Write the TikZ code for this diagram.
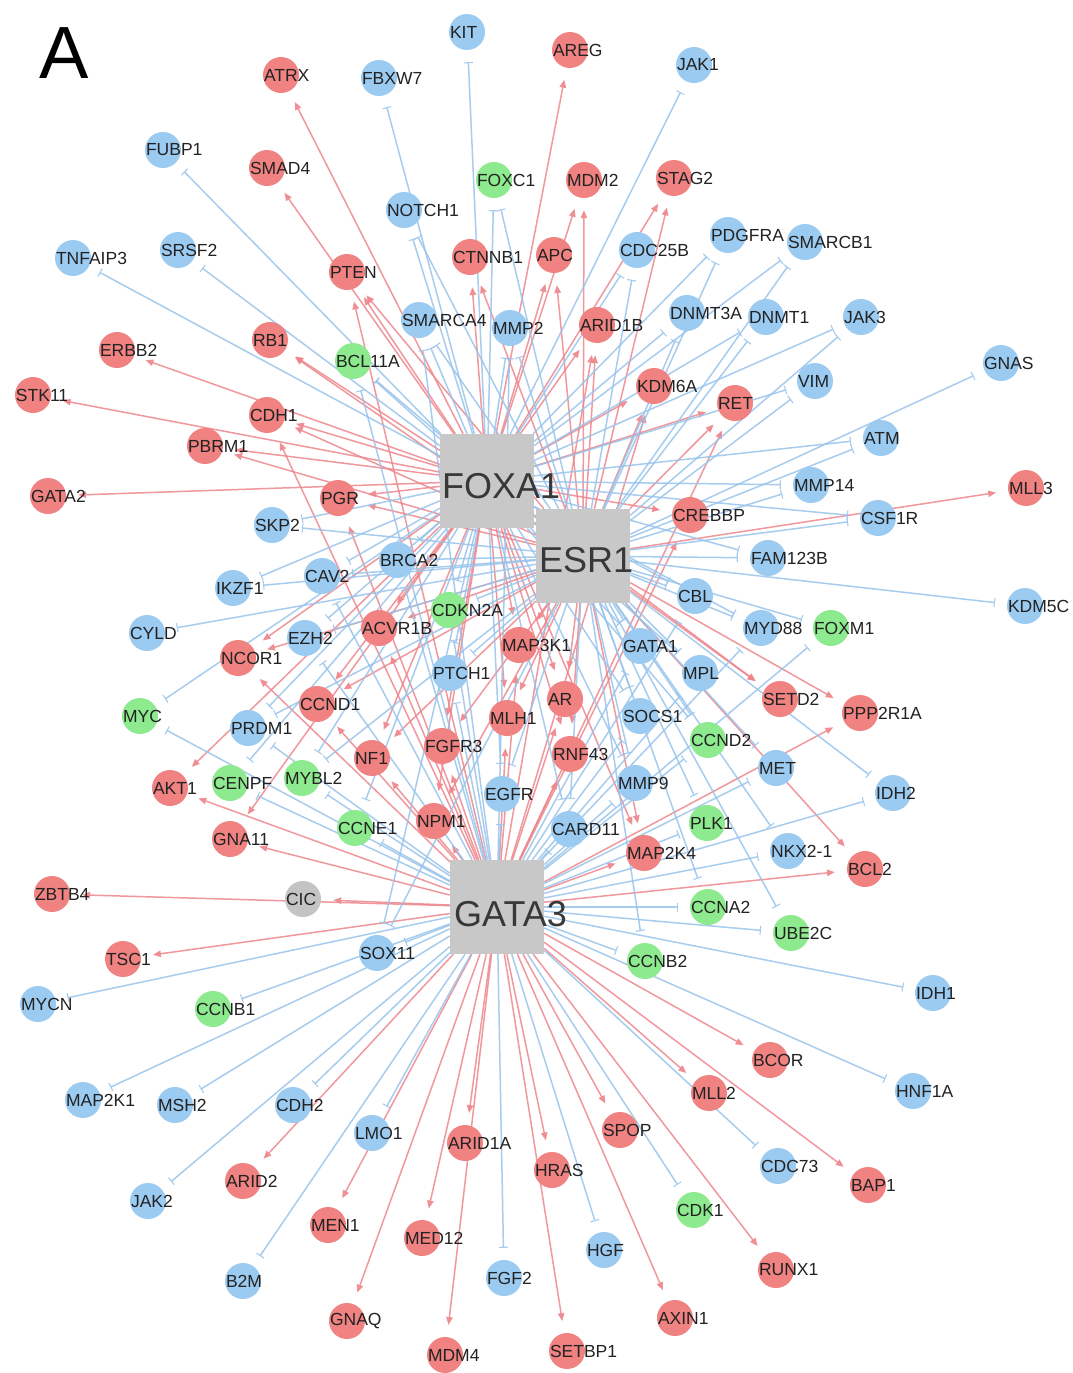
\documentclass[tikz,border=0pt]{standalone}
\usepackage{fontspec}
\setmainfont{Liberation Sans}
\usetikzlibrary{arrows.meta}
\definecolor{nred}{HTML}{F08282}
\definecolor{nblue}{HTML}{9CCBF2}
\definecolor{ngreen}{HTML}{8EEA8E}
\definecolor{ngray}{HTML}{C4C4C4}
\definecolor{hubgray}{HTML}{C8C8C8}
\definecolor{ered}{HTML}{EE868C}
\definecolor{eblue}{HTML}{98C4EC}
\definecolor{labtxt}{HTML}{222222}
\definecolor{hubtxt}{HTML}{383838}
\pgfdeclarelayer{bglayer}
\pgfdeclarelayer{edgelayer}
\pgfsetlayers{bglayer,edgelayer,main}
\begin{document}
\begin{tikzpicture}[x=1pt,y=-1pt,
  circ/.style={circle, draw=none, minimum size=36pt, inner sep=0pt},
  lab/.style={font=\fontsize{17.5}{18}\selectfont, text=labtxt, inner sep=0pt, anchor=west},
  hub/.style={rectangle, fill=hubgray, minimum width=94pt, minimum height=94pt, inner sep=0pt},
  hublab/.style={font=\fontsize{36}{36}\selectfont, text=hubtxt, inner sep=0pt, anchor=west},
  er/.style={draw=ered, line width=1.5pt, opacity=0.85, -{Triangle[length=8pt,width=6.5pt]}, shorten >=12pt},
  eb/.style={draw=eblue, line width=1.5pt, opacity=0.85, -{Bar[width=9pt,line width=1.1pt]}, shorten >=12pt},
]
\useasboundingbox (0,0) rectangle (1073,1373);
\begin{pgfonlayer}{bglayer}
\fill[white] (0,0) rectangle (1073,1373);
\end{pgfonlayer}

\node[font=\fontsize{74}{74}\selectfont, inner sep=0pt, anchor=south west] (Alab) at (39,79) {A};

% hubs
\node[hub] (F) at (487,481) {};
\node[hub] (E) at (583,556) {};
\node[hub] (G) at (497,907) {};
\node[hublab] (Fl) at (442,486) {FOXA1};
\node[hublab] (El) at (539,560) {ESR1};
\node[hublab] (Gl) at (454,914) {GATA3};

\def\nodelist{KIT/467/32/nblue/KIT, AREG/570/50/nred/AREG, JAK1/694/65/nblue/JAK1,
ATRX/281/75/nred/ATRX, FBXW7/379/78/nblue/FBXW7, FUBP1/163/150/nblue/FUBP1,
SMAD4/267/168/nred/SMAD4, FOXC1/494/180/ngreen/FOXC1, MDM2/584/180/nred/MDM2,
STAG2/674/178/nred/STAG2, NOTCH1/404/210/nblue/NOTCH1, TNFAIP3/73/258/nblue/TNFAIP3,
SRSF2/178/250/nblue/SRSF2, PTEN/347/272/nred/PTEN, CTNNB1/470/257/nred/CTNNB1,
APC/554/255/nred/APC, CDC25B/637/250/nblue/CDC25B, PDGFRA/728/235/nblue/PDGFRA,
SMARCB1/805/242/nblue/SMARCB1, SMARCA4/419/320/nblue/SMARCA4, MMP2/510/328/nblue/MMP2,
ARID1B/597/325/nred/ARID1B, DNMT3A/687/313/nblue/DNMT3A, DNMT1/766/317/nblue/DNMT1,
JAK3/861/317/nblue/JAK3, RB1/270/340/nred/RB1, BCL11A/353/361/ngreen/BCL11A,
ERBB2/117/350/nred/ERBB2, KDM6A/654/386/nred/KDM6A, VIM/815/381/nblue/VIM,
GNAS/1001/363/nblue/GNAS, STK11/33/395/nred/STK11, CDH1/267/415/nred/CDH1,
RET/735/403/nred/RET, ATM/881/438/nblue/ATM, PBRM1/205/446/nred/PBRM1,
GATA2/48/496/nred/GATA2, PGR/338/498/nred/PGR, MMP14/811/485/nblue/MMP14,
MLL3/1026/488/nred/MLL3, CREBBP/690/515/nred/CREBBP, CSF1R/878/518/nblue/CSF1R,
SKP2/272/525/nblue/SKP2, BRCA2/397/560/nblue/BRCA2, FAM123B/768/558/nblue/FAM123B,
IKZF1/233/588/nblue/IKZF1, CAV2/322/576/nblue/CAV2, CDKN2A/449/610/ngreen/CDKN2A,
KDM5C/1025/606/nblue/KDM5C, CBL/695/596/nblue/CBL, CYLD/147/633/nblue/CYLD,
EZH2/305/638/nblue/EZH2, ACVR1B/379/628/nred/ACVR1B, MAP3K1/519/645/nred/MAP3K1,
GATA1/640/646/nblue/GATA1, MYD88/761/628/nblue/MYD88, FOXM1/831/628/ngreen/FOXM1,
NCOR1/238/658/nred/NCOR1, PTCH1/450/673/nblue/PTCH1, MPL/700/673/nblue/MPL,
MYC/140/716/ngreen/MYC, CCND1/317/704/nred/CCND1, AR/565/699/nred/AR,
MLH1/507/718/nred/MLH1, SOCS1/640/716/nblue/SOCS1, SETD2/780/699/nred/SETD2,
PPP2R1A/860/713/nred/PPP2R1A, PRDM1/248/728/nblue/PRDM1, CCND2/708/740/ngreen/CCND2,
CENPF/230/783/ngreen/CENPF, MYBL2/302/778/ngreen/MYBL2, NF1/372/758/nred/NF1,
FGFR3/442/746/nred/FGFR3, RNF43/570/754/nred/RNF43, MET/776/768/nblue/MET,
AKT1/170/788/nred/AKT1, EGFR/502/794/nblue/EGFR, MMP9/635/783/nblue/MMP9,
IDH2/893/793/nblue/IDH2, NPM1/434/821/nred/NPM1, CCNE1/355/828/ngreen/CCNE1,
PLK1/707/823/ngreen/PLK1, CARD11/569/829/nblue/CARD11, GNA11/230/839/nred/GNA11,
MAP2K4/644/853/nred/MAP2K4, NKX21/788/851/nblue/NKX2-1, BCL2/865/869/nred/BCL2,
ZBTB4/52/894/nred/ZBTB4, CIC/303/899/ngray/CIC, CCNA2/708/907/ngreen/CCNA2,
UBE2C/791/933/ngreen/UBE2C, TSC1/123/959/nred/TSC1, SOX11/377/953/nblue/SOX11,
CCNB2/645/961/ngreen/CCNB2, MYCN/38/1004/nblue/MYCN, CCNB1/213/1009/ngreen/CCNB1,
IDH1/933/993/nblue/IDH1, BCOR/770/1060/nred/BCOR, HNF1A/913/1091/nblue/HNF1A,
MAP2K1/83/1100/nblue/MAP2K1, MSH2/175/1105/nblue/MSH2, CDH2/293/1105/nblue/CDH2,
MLL2/709/1093/nred/MLL2, SPOP/620/1130/nred/SPOP, LMO1/372/1133/nblue/LMO1,
ARID1A/465/1143/nred/ARID1A, CDC73/778/1166/nblue/CDC73, HRAS/552/1170/nred/HRAS,
BAP1/868/1185/nred/BAP1, ARID2/243/1181/nred/ARID2, JAK2/148/1201/nblue/JAK2,
CDK1/694/1210/ngreen/CDK1, MEN1/328/1225/nred/MEN1, MED12/422/1238/nred/MED12,
HGF/604/1250/nblue/HGF, RUNX1/776/1270/nred/RUNX1, B2M/243/1281/nblue/B2M,
FGF2/504/1278/nblue/FGF2, GNAQ/347/1321/nred/GNAQ, AXIN1/675/1318/nred/AXIN1,
MDM4/445/1355/nred/MDM4, SETBP1/567/1351/nred/SETBP1}

\foreach \n/\x/\y/\c/\t in \nodelist {\node[circ, fill=\c] (\n) at (\x,\y) {};}
\foreach \n/\x/\y/\c/\t in \nodelist {\node[lab] (\n-l) at ([xshift=1pt]\n.west) {\t};}

\begin{pgfonlayer}{edgelayer}
% activation edges (red arrows)
\foreach \n/\hs in {AREG/{F}, ATRX/{F}, SMAD4/{F}, MDM2/{F,E}, STAG2/{F,E}, PTEN/{F,E,G},
 CTNNB1/{F,E}, APC/{F,E}, ARID1B/{F,E,G}, RB1/{F,E}, ERBB2/{F}, KDM6A/{F,E,G}, STK11/{F},
 CDH1/{F,E,G}, RET/{F,E,G}, PBRM1/{F,E}, GATA2/{F}, PGR/{F,E,G}, MLL3/{E}, CREBBP/{F,G},
 ACVR1B/{F,E,G}, MAP3K1/{F,E,G}, NCOR1/{F,E,G}, CCND1/{F,E,G}, AR/{F,E,G}, MLH1/{F,E,G},
 SETD2/{F,E}, PPP2R1A/{E,G}, NF1/{F,E,G}, FGFR3/{F,E,G}, RNF43/{F,E,G}, AKT1/{F,G},
 NPM1/{F,E,G}, GNA11/{F,G}, MAP2K4/{F,E,G}, BCL2/{E,G}, ZBTB4/{G}, CIC/{G}, TSC1/{G},
 BCOR/{G}, MLL2/{G}, SPOP/{G}, ARID1A/{G}, HRAS/{G}, BAP1/{G}, ARID2/{G}, MEN1/{G},
 MED12/{G}, RUNX1/{G}, GNAQ/{G}, AXIN1/{G}, MDM4/{G}, SETBP1/{G}}
 {\foreach \h in \hs {\draw[er] (\h) -- (\n);}}
% inhibition edges (blue bars)
\foreach \n/\hs in {KIT/{F}, JAK1/{F}, FBXW7/{F}, FUBP1/{F}, FOXC1/{F,E}, NOTCH1/{F,E},
 TNFAIP3/{F}, SRSF2/{F}, CDC25B/{F,E}, PDGFRA/{F,E}, SMARCB1/{F,E}, SMARCA4/{F,E,G},
 MMP2/{F,E,G}, DNMT3A/{F,E}, DNMT1/{F,E}, JAK3/{F,E}, BCL11A/{F,E,G}, VIM/{F,E}, GNAS/{E},
 ATM/{F,E}, MMP14/{F,E}, CSF1R/{F,E}, SKP2/{F,E}, BRCA2/{F,E,G}, FAM123B/{F,E}, IKZF1/{F,E},
 CAV2/{F,E,G}, CDKN2A/{F,E,G}, KDM5C/{E}, CBL/{F,E,G}, CYLD/{E}, EZH2/{F,E,G}, GATA1/{F,E,G},
 MYD88/{F,E,G}, FOXM1/{E,G}, PTCH1/{F,E,G}, MPL/{F,E,G}, MYC/{F,G}, SOCS1/{F,E,G},
 PRDM1/{F,E,G}, CCND2/{F,E,G}, CENPF/{F,G}, MYBL2/{F,E,G}, MET/{E,G}, EGFR/{F,E,G},
 MMP9/{F,E,G}, IDH2/{E,G}, CCNE1/{F,G}, PLK1/{E,G}, CARD11/{F,E,G}, NKX21/{E,G},
 CCNA2/{E,G}, UBE2C/{E,G}, SOX11/{F,E,G}, CCNB2/{E,G}, MYCN/{G}, CCNB1/{G}, IDH1/{G},
 HNF1A/{G}, MAP2K1/{G}, MSH2/{G}, CDH2/{G}, LMO1/{G}, CDC73/{G}, JAK2/{G}, CDK1/{G},
 HGF/{G}, B2M/{G}, FGF2/{G}}
 {\foreach \h in \hs {\draw[eb] (\h) -- (\n);}}
\end{pgfonlayer}
\end{tikzpicture}
\end{document}
